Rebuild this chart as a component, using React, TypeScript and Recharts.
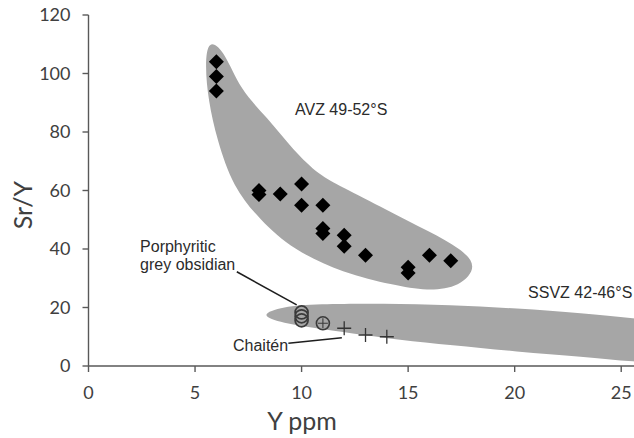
import React from 'react';
import { ScatterChart, Scatter, XAxis, YAxis, ReferenceLine, ReferenceDot } from 'recharts';

// Axis ticks
const xTicks = [0, 5, 10, 15, 20, 25];
const yTicks = [0, 20, 40, 60, 80, 100, 120];

// AVZ 49-52°S samples (black diamonds)
const avzSamples = [
  { x: 6, y: 104 }, { x: 6, y: 99 }, { x: 6, y: 94 },
  { x: 8, y: 60 }, { x: 8, y: 58.6 }, { x: 9, y: 58.8 },
  { x: 10, y: 62.2 }, { x: 10, y: 55 }, { x: 11, y: 55 },
  { x: 11, y: 47 }, { x: 11, y: 45.3 }, { x: 12, y: 44.7 }, { x: 12, y: 40.9 },
  { x: 13, y: 37.9 }, { x: 15, y: 33.8 }, { x: 15, y: 31.8 },
  { x: 16, y: 37.9 }, { x: 17, y: 36 },
];

// Porphyritic grey obsidian (open circles)
const obsidianSamples = [
  { x: 10, y: 18.3 }, { x: 10, y: 17 }, { x: 10, y: 15.6 },
];
// Porphyritic obsidian sample coinciding with a Chaitén analysis (circle with plus)
const obsidianChaitenSamples = [{ x: 11, y: 14.6 }];

// Chaitén (crosses)
const chaitenSamples = [
  { x: 12, y: 12.9 }, { x: 13, y: 10.6 }, { x: 14, y: 10 },
];

// Field outlines (data space)
const avzField = [
  { x: 5.61, y: 112.1 }, { x: 6.41, y: 107.4 }, { x: 7.11, y: 94.4 }, { x: 8.38, y: 85.1 },
  { x: 9.6, y: 73.8 }, { x: 10.87, y: 65.0 }, { x: 11.81, y: 61.6 }, { x: 14.01, y: 53.3 },
  { x: 16.03, y: 45.8 }, { x: 17.44, y: 40.3 }, { x: 18.29, y: 34.2 }, { x: 17.44, y: 27.0 },
  { x: 15.89, y: 25.6 }, { x: 14.3, y: 27.7 }, { x: 11.95, y: 31.8 }, { x: 9.6, y: 39.7 },
  { x: 8.05, y: 49.9 }, { x: 6.78, y: 61.2 }, { x: 6.03, y: 77.3 }, { x: 5.62, y: 90.9 },
  { x: 5.47, y: 102.9 },
];

const ssvzField = [
  { x: 7.96, y: 17.4 }, { x: 9.13, y: 20.3 }, { x: 10.71, y: 21.2 }, { x: 13.83, y: 21.4 },
  { x: 16.97, y: 20.9 }, { x: 20.1, y: 19.7 }, { x: 23.22, y: 18.0 }, { x: 25.56, y: 16.3 },
  { x: 27.77, y: 14.7 }, { x: 28.7, y: 8.9 }, { x: 27.77, y: 0.3 }, { x: 25.56, y: 1.5 },
  { x: 23.22, y: 3.2 }, { x: 20.1, y: 4.9 }, { x: 16.97, y: 7.2 }, { x: 14.62, y: 8.9 },
  { x: 12.28, y: 11.2 }, { x: 10.71, y: 12.9 }, { x: 9.13, y: 14.6 },
];

// Annotation texts and anchor points (left/baseline in data space)
const annotationTexts = ['AVZ 49-52°S', 'SSVZ 42-46°S', 'Porphyritic', 'grey obsidian', 'Chaitén'];
const annotationAnchors = [
  { x: 9.69, y: 85.8 }, { x: 20.63, y: 23.2 }, { x: 2.42, y: 39.1 }, { x: 2.42, y: 32.8 }, { x: 6.78, y: 4.96 },
];

// Leader lines
const obsidianLeader = [{ x: 6.96, y: 32.2 }, { x: 9.77, y: 20.9 }];
const chaitenLeader = [{ x: 9.38, y: 7.76 }, { x: 11.89, y: 9.68 }];

const FIELD = '#a6a6a6';
const AXIS = '#595959';
const TICK_FONT = { fill: '#404040', fontSize: 18, fontFamily: 'Lato' };

const Diamond = (p: any) => {
  const { cx, cy } = p;
  if (cx == null || cy == null) return <g />;
  const r = 7.5;
  return <path d={`M${cx},${cy - r}L${cx + r},${cy}L${cx},${cy + r}L${cx - r},${cy}Z`} fill="#000" />;
};

const OpenCircle = (p: any) => {
  const { cx, cy } = p;
  if (cx == null || cy == null) return <g />;
  return <circle cx={cx} cy={cy} r={6.5} fill="none" stroke="#3a3a3a" strokeWidth={1.7} />;
};

const CirclePlus = (p: any) => {
  const { cx, cy } = p;
  if (cx == null || cy == null) return <g />;
  return (
    <g>
      <circle cx={cx} cy={cy} r={6.5} fill="none" stroke="#3a3a3a" strokeWidth={1.6} />
      <path d={`M${cx - 5},${cy}H${cx + 5}M${cx},${cy - 5}V${cy + 5}`} stroke="#3a3a3a" strokeWidth={1.1} />
    </g>
  );
};

const Cross = (p: any) => {
  const { cx, cy } = p;
  if (cx == null || cy == null) return <g />;
  const r = 7;
  return <path d={`M${cx - r},${cy}H${cx + r}M${cx},${cy - r}V${cy + r}`} stroke="#333" strokeWidth={1.3} fill="none" />;
};

const Nothing = () => <g />;

const annotationShape = (text: string) => (p: any) => (
  <text x={p.cx} y={p.cy} fill="#2b2b2b" fontSize={16} fontFamily="'Liberation Sans', Arial, sans-serif">
    {text}
  </text>
);

export default function App() {
  return (
    <div style={{ position: 'absolute', left: 0, top: 0 }}>
      <ScatterChart width={634} height={438} margin={{ top: 15, right: 0, bottom: 0, left: 0 }}>
        <XAxis
          type="number"
          dataKey="x"
          domain={[0, 25.6]}
          ticks={xTicks}
          allowDataOverflow
          height={72}
          tickSize={6}
          tickMargin={14}
          stroke={AXIS}
          strokeWidth={1.4}
          tick={TICK_FONT}
          label={{
            content: () => (
              <text x={302} y={430} textAnchor="middle" fill="#404040" fontSize={25} fontFamily="Lato">
                Y ppm
              </text>
            ),
          }}
        />
        <YAxis
          type="number"
          dataKey="y"
          domain={[0, 120]}
          ticks={yTicks}
          allowDataOverflow
          width={88.5}
          tickSize={6}
          tickMargin={12}
          stroke={AXIS}
          strokeWidth={1.4}
          tick={TICK_FONT}
          label={{
            content: () => (
              <text
                x={32}
                y={205}
                textAnchor="middle"
                fill="#404040"
                fontSize={25}
                fontFamily="Lato"
                transform="rotate(-90 32 205)"
              >
                Sr/Y
              </text>
            ),
          }}
        />
        <Scatter
          name="AVZ field"
          data={avzField}
          fill={FIELD}
          shape={Nothing}
          line={{ fill: FIELD, stroke: 'none' }}
          lineType="joint"
          lineJointType="basisClosed"
          isAnimationActive={false}
        />
        <Scatter
          name="SSVZ field"
          data={ssvzField}
          fill={FIELD}
          shape={Nothing}
          line={{ fill: FIELD, stroke: 'none' }}
          lineType="joint"
          lineJointType="basisClosed"
          isAnimationActive={false}
        />
        <ReferenceLine segment={obsidianLeader} stroke="#1e1e1e" strokeWidth={1.6} ifOverflow="visible" />
        <ReferenceLine segment={chaitenLeader} stroke="#1e1e1e" strokeWidth={1.6} ifOverflow="visible" />
        <Scatter name="AVZ 49-52°S" data={avzSamples} shape={Diamond} isAnimationActive={false} />
        <Scatter name="Porphyritic grey obsidian" data={obsidianSamples} shape={OpenCircle} isAnimationActive={false} />
        <Scatter name="Porphyritic (Chaitén)" data={obsidianChaitenSamples} shape={CirclePlus} isAnimationActive={false} />
        <Scatter name="Chaitén" data={chaitenSamples} shape={Cross} isAnimationActive={false} />
        {annotationAnchors.map((a, i) => (
          <ReferenceDot key={i} x={a.x} y={a.y} r={0} ifOverflow="visible" shape={annotationShape(annotationTexts[i])} />
        ))}
      </ScatterChart>
    </div>
  );
}
